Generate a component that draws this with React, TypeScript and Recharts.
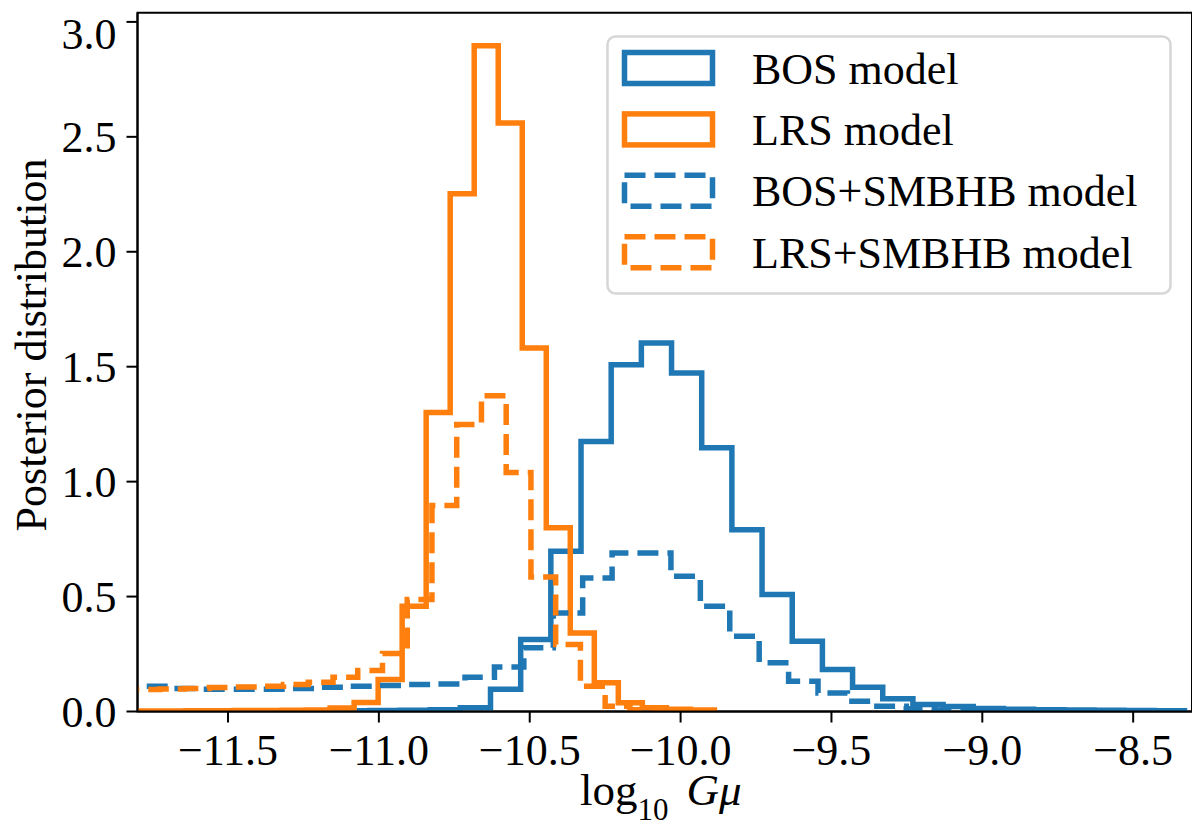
import { LineChart, Line, XAxis, YAxis, Legend, ReferenceArea } from 'recharts';

const FONT = '"Liberation Serif", "Times New Roman", serif';

const X_DOMAIN = [-11.8, -8.305];
const Y_DOMAIN = [0, 3.04];
const X_TICKS = [-11.5, -11.0, -10.5, -10.0, -9.5, -9.0, -8.5];
const Y_TICKS = [0, 0.5, 1.0, 1.5, 2.0, 2.5, 3.0];

// each histogram: left edge of first bin, bin width, bin heights
const bosStart = -11.33;
const bosWidth = 0.1;
const bosHeights = [
  0.002, 0.002, 0.003, 0.004, 0.005, 0.008, 0.016, 0.097, 0.313, 0.697,
  1.175, 1.509, 1.603, 1.473, 1.147, 0.791, 0.509, 0.306, 0.183, 0.106,
  0.055, 0.03, 0.022, 0.013, 0.01, 0.008, 0.006, 0.005, 0.004, 0.003,
];

const lrsStart = -11.878;
const lrsWidth = 0.0796;
const lrsHeights = [
  0.002, 0.002, 0.002, 0.003, 0.003, 0.004, 0.004, 0.005, 0.007, 0.015,
  0.039, 0.139, 0.458, 1.301, 2.252, 2.896, 2.56, 1.581, 0.799, 0.342,
  0.125, 0.038, 0.016, 0.01, 0.006,
];

const bosSmbhbStart = -11.8845;
const bosSmbhbWidth = 0.0975;
const bosSmbhbHeights = [
  0.11, 0.11, 0.1, 0.097, 0.097, 0.097, 0.1, 0.105, 0.11, 0.113,
  0.117, 0.12, 0.149, 0.194, 0.277, 0.429, 0.581, 0.69, 0.69, 0.588,
  0.458, 0.327, 0.212, 0.132, 0.081, 0.045, 0.023, 0.012, 0.007, 0.004,
];

const lrsSmbhbStart = -11.89;
const lrsSmbhbWidth = 0.082;
const lrsSmbhbHeights = [
  0.094, 0.096, 0.098, 0.1, 0.104, 0.107, 0.11, 0.117, 0.127, 0.149,
  0.178, 0.252, 0.487, 0.896, 1.248, 1.374, 1.04, 0.585, 0.291, 0.11,
  0.023, 0.008, 0.004, 0.002,
];

const DASH = '21 9';

const SERIES = [
  { name: 'BOS model', color: '#1f77b4', dash: undefined, start: bosStart, width: bosWidth, heights: bosHeights },
  { name: 'LRS model', color: '#ff7f0e', dash: undefined, start: lrsStart, width: lrsWidth, heights: lrsHeights },
  { name: 'BOS+SMBHB model', color: '#1f77b4', dash: DASH, start: bosSmbhbStart, width: bosSmbhbWidth, heights: bosSmbhbHeights },
  { name: 'LRS+SMBHB model', color: '#ff7f0e', dash: DASH, start: lrsSmbhbStart, width: lrsSmbhbWidth, heights: lrsSmbhbHeights },
];

// outline of a step histogram (matplotlib histtype="step")
function toSteps(start: number, width: number, heights: number[]) {
  const pts = [{ x: start, y: 0 }];
  heights.forEach((h, i) => pts.push({ x: start + i * width, y: h }));
  pts.push({ x: start + heights.length * width, y: 0 });
  return pts;
}

const fmt = (v: number) => v.toFixed(1).replace('-', '\u2212');

const tickStyle = { fill: '#000', fontSize: 44, fontFamily: FONT };
const axisLine = { stroke: '#000', strokeWidth: 2 };
const tickLine = { stroke: '#000', strokeWidth: 2 };

function LegendBox({ payload }: any) {
  const entries = payload || [];
  return (
    <svg width={566} height={260} style={{ display: 'block' }}>
      <rect x={1.5} y={1.5} width={563} height={257} rx={8} fill="#fff" fillOpacity={0.8} stroke="#d6d6d6" strokeWidth={2.5} />
      {SERIES.map((s, i) => {
        const entry = entries.find((e: any) => e.value === s.name);
        const cy = 33 + i * 61.4;
        return (
          <g key={s.name}>
            <rect
              x={18.5}
              y={cy - 15.5}
              width={88}
              height={31}
              fill="none"
              stroke={entry?.color || s.color}
              strokeWidth={5.5}
              strokeDasharray={s.dash}
            />
            <text x={146} y={cy + 15.5} fontSize={44} fontFamily={FONT} fill="#000">
              {s.name}
            </text>
          </g>
        );
      })}
    </svg>
  );
}

export default function App() {
  return (
    <LineChart width={1190} height={820} margin={{ top: 4.7, right: 6, bottom: 0, left: 0 }}>
      <XAxis
        type="number"
        dataKey="x"
        domain={X_DOMAIN}
        allowDataOverflow
        ticks={X_TICKS}
        tickFormatter={fmt}
        tick={tickStyle}
        tickSize={11}
        tickMargin={11}
        axisLine={axisLine}
        tickLine={tickLine}
        height={116.5}
        label={{
          content: ({ viewBox }: any) => {
            const vb = viewBox || { x: 129.5, y: 703.5, width: 1054.5 };
            return (
              <text x={vb.x + vb.width / 2 - 4} y={vb.y + 93.5} textAnchor="middle" fontSize={45} fontFamily={FONT} fill="#000">
                log
                <tspan fontSize={31} dy={15}>10</tspan>
                <tspan dy={-15} dx={18} fontStyle="italic">G&#956;</tspan>
              </text>
            );
          },
        }}
      />
      <YAxis
        type="number"
        domain={Y_DOMAIN}
        allowDataOverflow
        ticks={Y_TICKS}
        tickFormatter={fmt}
        tick={tickStyle}
        tickSize={11}
        tickMargin={10}
        axisLine={axisLine}
        tickLine={tickLine}
        width={129.5}
        label={{
          content: () => {
            const cx = 38;
            const cy = 337;
            return (
              <text x={cx} y={cy} transform={`rotate(-90, ${cx}, ${cy})`} textAnchor="middle" fontSize={44} fontFamily={FONT} fill="#000">
                Posterior distribution
              </text>
            );
          },
        }}
      />
      {SERIES.map((s) => (
        <Line
          key={s.name}
          name={s.name}
          data={toSteps(s.start, s.width, s.heights)}
          dataKey="y"
          type="stepAfter"
          stroke={s.color}
          strokeWidth={5.5}
          strokeDasharray={s.dash}
          strokeLinejoin="miter"
          dot={false}
          activeDot={false}
          isAnimationActive={false}
        />
      ))}
      <ReferenceArea
        x1={X_DOMAIN[0]}
        x2={X_DOMAIN[1]}
        y1={Y_DOMAIN[0]}
        y2={Y_DOMAIN[1]}
        fill="none"
        fillOpacity={0}
        stroke="#000"
        strokeWidth={2}
      />
      <Legend
        layout="horizontal"
        verticalAlign="middle"
        align="center"
        content={<LegendBox />}
        wrapperStyle={{ left: 598, top: 27, width: 566, height: 260 }}
      />
    </LineChart>
  );
}
